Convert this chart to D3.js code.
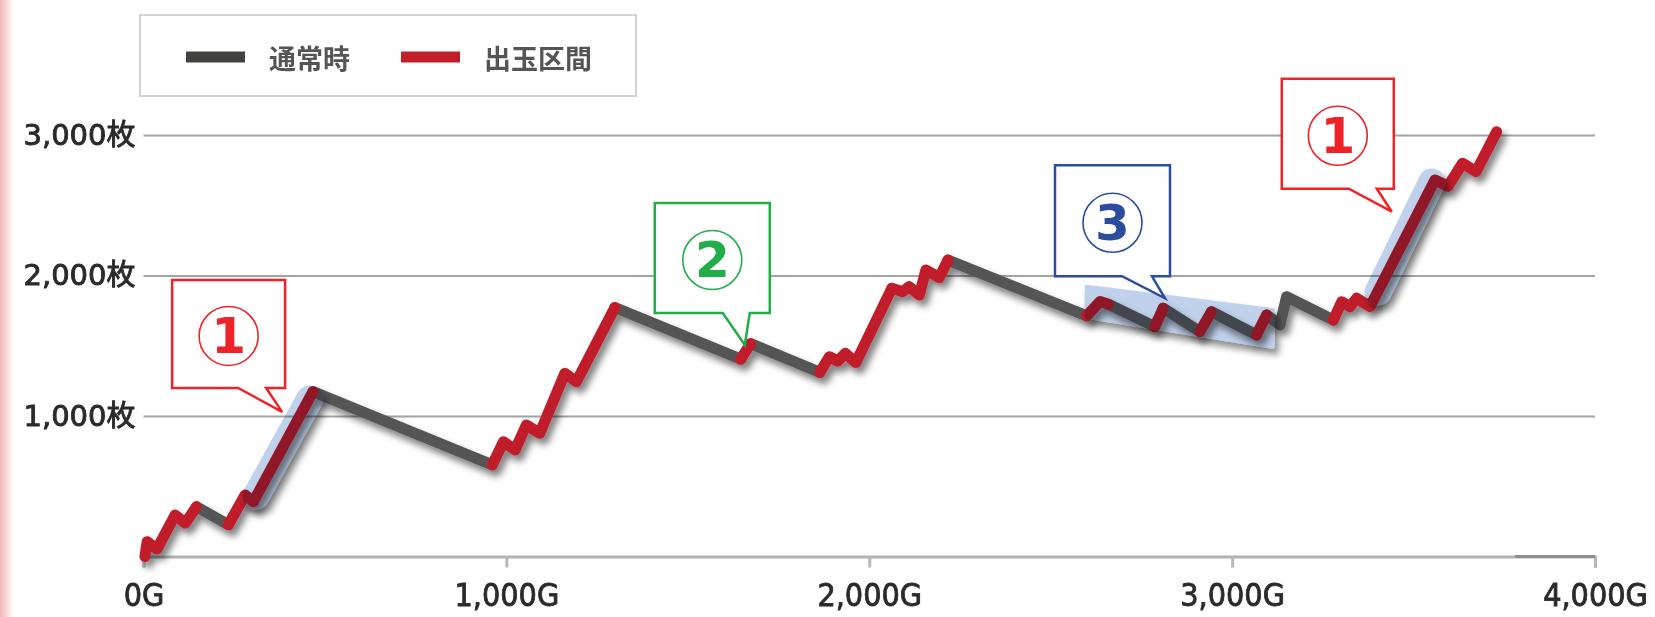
<!DOCTYPE html>
<html>
<head>
<meta charset="utf-8">
<script src="https://cdn.jsdelivr.net/npm/d3@7"></script>
<style>
  body { margin: 0; background: #fff; }
  svg { display: block; }
</style>
</head>
<body>
<svg id="chart" width="1655" height="617"></svg>
<script>
// game count (G) and coin balance (枚) at each turning point of the line
var games = [4, 10, 37, 87, 115, 146, 234, 280, 303, 467,
             961, 992, 1024, 1055, 1092, 1161, 1193, 1299,
             1646, 1673, 1864, 1890, 1913, 1934, 1963, 2062, 2092, 2110, 2138, 2156, 2193, 2217,
             2599, 2636, 2659, 2787, 2810, 2911, 2943, 3067, 3095,
             3132, 3150, 3279, 3302, 3325, 3343, 3380, 3559, 3595, 3635, 3672, 3729];
var coins = [0, 105, 53, 295, 238, 354, 226, 438, 390, 1173,
             652, 817, 758, 936, 877, 1304, 1244, 1772,
             1405, 1515, 1310, 1422, 1390, 1446, 1380, 1909, 1885, 1920, 1861, 2039, 1985, 2110,
             1712, 1815, 1795, 1636, 1767, 1600, 1742, 1577, 1719,
             1648, 1849, 1683, 1813, 1778, 1838, 1778, 2680, 2635, 2799, 2739, 3023];
// kind of the segment that ends at each point: "n" = 通常時, "b" = 出玉区間
var kind = ["-", "b", "b", "b", "b", "b", "n", "b", "b", "b",
            "n", "b", "b", "b", "b", "b", "b", "b",
            "n", "b", "n", "b", "b", "b", "b", "b", "b", "b", "b", "b", "b", "b",
            "n", "b", "b", "n", "b", "n", "b", "n", "b",
            "n", "n", "n", "b", "b", "b", "b", "b", "b", "b", "b", "b"];

var xTicks = [0, 1000, 2000, 3000, 4000];
var yTicks = [1000, 2000, 3000];
var legendNames = ["通常時", "出玉区間"];

// callouts: label and the point (G, 枚) the tail points at
var calloutLabels = ["1", "2", "3", "1"];
var calloutGames = [382, 1657, 2815, 3440];
var calloutCoins = [1029, 1505, 1838, 2454];

// highlighted stretches (G / 枚)
var bandStrokes = [[[310, 430], [458, 1121]], [[3402, 1882], [3550, 2665]]];
var bandAreaGames = [2599, 3112];
var bandAreaLow = [1707, 1493];
var bandAreaHigh = [1920, 1754];

var colors = { n: "#575555", b: "#c11f2a" };
var calloutColors = ["#ee2227", "#20ad4a", "#2c4d9e", "#ee2227"];
// box offsets from the tail tip: [left, top, right, bottom, tailBase0, tailBase1]
var calloutBoxes = [[-110, -132, 3, -24, -44, -16], [-90, -142, 25, -32, -22, 5],
                    [-110, -133, 5, -22, -43, -13], [-110, -133, 2, -23, -43, -15]];

var svg = d3.select("#chart");
var defs = svg.append("defs");

var shadow = defs.append("filter").attr("id", "shadow")
    .attr("x", "-20%").attr("y", "-20%").attr("width", "140%").attr("height", "140%");
shadow.append("feDropShadow")
    .attr("dx", 4).attr("dy", 6).attr("stdDeviation", 3.5)
    .attr("flood-color", "#000").attr("flood-opacity", 0.5);

var edge = defs.append("linearGradient").attr("id", "edge");
edge.append("stop").attr("offset", "0%").attr("stop-color", "#f0b0b0").attr("stop-opacity", 0.9);
edge.append("stop").attr("offset", "100%").attr("stop-color", "#f0b0b0").attr("stop-opacity", 0);
svg.append("rect").attr("x", 0).attr("y", 0).attr("width", 14).attr("height", 617)
    .attr("fill", "url(#edge)");

var x = d3.scaleLinear().domain([0, 4000]).range([143.5, 1595]);
var y = d3.scaleLinear().domain([0, 3000]).range([556.5, 135]);

// gridlines + y labels
var yAxis = svg.append("g")
    .attr("transform", "translate(" + x(0) + ",0)")
    .call(d3.axisLeft(y).tickValues(yTicks).tickSize(-(x(4000) - x(0)))
        .tickPadding(8).tickFormat(function (d) { return d3.format(",")(d) + "枚"; }));
yAxis.select(".domain").remove();
yAxis.selectAll(".tick line").attr("stroke", "#a4a4a4").attr("stroke-width", 2);
yAxis.selectAll(".tick text")
    .attr("fill", "#2a2a2a")
    .attr("stroke", "#2a2a2a").attr("stroke-width", 0.9)
    .style("font-family", "'DejaVu Sans', 'Noto Sans CJK JP', sans-serif")
    .style("font-size", "29px");

// x axis
var xAxis = svg.append("g")
    .attr("transform", "translate(0," + y(0) + ")")
    .call(d3.axisBottom(x).tickValues(xTicks).tickSize(11).tickPadding(16)
        .tickFormat(function (d) { return d3.format(",")(d) + "G"; }));
xAxis.select(".domain").attr("stroke", "#b2b2b2").attr("stroke-width", 3);
xAxis.selectAll(".tick line").attr("stroke", "#b8b8b8").attr("stroke-width", 3);
xAxis.selectAll(".tick text")
    .attr("fill", "#2a2a2a")
    .attr("stroke", "#2a2a2a").attr("stroke-width", 0.8)
    .style("font-family", "'DejaVu Sans Condensed', 'DejaVu Sans', sans-serif")
    .style("font-size", "32px");
xAxis.append("line")
    .attr("x1", x(3780)).attr("x2", x(4000)).attr("y1", 0).attr("y2", 0)
    .attr("stroke", "#8e8e8e").attr("stroke-width", 3);

// line runs
var runs = [];
for (var i = 1; i < games.length; i++) {
    var last = runs[runs.length - 1];
    if (last && last.kind === kind[i]) last.pts.push(i);
    else runs.push({ kind: kind[i], pts: [i - 1, i] });
}
var line = d3.line()
    .x(function (i) { return x(games[i]); })
    .y(function (i) { return y(coins[i]); });

var lines = svg.append("g").attr("filter", "url(#shadow)");
["n", "b"].forEach(function (k) {
    lines.selectAll(".run-" + k)
        .data(runs.filter(function (r) { return r.kind === k; }))
        .enter().append("path")
        .attr("class", "run-" + k)
        .attr("d", function (r) { return line(r.pts); })
        .attr("fill", "none")
        .attr("stroke", colors[k])
        .attr("stroke-width", 11)
        .attr("stroke-linecap", "round")
        .attr("stroke-linejoin", "round");
});

// translucent highlight bands
var bands = svg.append("g").style("mix-blend-mode", "multiply");
var bandShadow = bands.append("g").attr("filter", "url(#shadow)").attr("opacity", 0.9);
bandShadow.selectAll(".band")
    .data(bandStrokes).enter().append("path")
    .attr("d", d3.line().x(function (p) { return x(p[0]); }).y(function (p) { return y(p[1]); }))
    .attr("fill", "none")
    .attr("stroke", "#b8cde9")
    .attr("stroke-width", 27)
    .attr("stroke-linecap", "round");
bandShadow.append("path")
    .datum(bandAreaGames.map(function (g, i) { return i; }))
    .attr("d", d3.area()
        .x(function (i) { return x(bandAreaGames[i]); })
        .y0(function (i) { return y(bandAreaLow[i]); })
        .y1(function (i) { return y(bandAreaHigh[i]); }))
    .attr("fill", "#b8cde9")
    .attr("stroke", "#b8cde9")
    .attr("stroke-width", 4)
    .attr("stroke-linejoin", "round");

// callouts
calloutLabels.forEach(function (label, i) {
    var tx = x(calloutGames[i]), ty = y(calloutCoins[i]);
    var b = calloutBoxes[i];
    var l = tx + b[0], t = ty + b[1], r = tx + b[2], bt = ty + b[3];
    var g = svg.append("g");
    g.append("path")
        .attr("d", "M" + l + "," + t + "H" + r + "V" + bt + "H" + (tx + b[5]) +
            "L" + tx + "," + ty + "L" + (tx + b[4]) + "," + bt + "H" + l + "Z")
        .attr("fill", "#fff")
        .attr("stroke", calloutColors[i])
        .attr("stroke-width", 2.5)
        .attr("stroke-linejoin", "miter");
    var cx = (l + r) / 2, cy = (t + bt) / 2 + 2;
    g.append("circle").attr("cx", cx).attr("cy", cy).attr("r", 29.5)
        .attr("fill", "none").attr("stroke", calloutColors[i]).attr("stroke-width", 1.6);
    g.append("text").attr("x", cx).attr("y", cy)
        .attr("text-anchor", "middle").attr("dominant-baseline", "central")
        .attr("fill", calloutColors[i])
        .style("font-family", "'DejaVu Sans', sans-serif")
        .style("font-weight", "bold")
        .style("font-size", "50px")
        .text(label);
});

// legend
var legend = svg.append("g");
legend.append("rect")
    .attr("x", 140).attr("y", 15).attr("width", 496).attr("height", 81)
    .attr("fill", "#fff").attr("stroke", "#d2d2d2").attr("stroke-width", 2);
var legendX = [186, 401];
var legendColors = ["#454141", "#c11f2a"];
legendNames.forEach(function (name, i) {
    legend.append("line")
        .attr("x1", legendX[i]).attr("x2", legendX[i] + 59)
        .attr("y1", 57).attr("y2", 57)
        .attr("stroke", legendColors[i]).attr("stroke-width", 11);
    legend.append("text")
        .attr("x", legendX[i] + 83).attr("y", 57)
        .attr("dominant-baseline", "central")
        .attr("fill", "#555")
        .style("font-family", "'Noto Sans CJK JP', sans-serif")
        .style("font-weight", "bold")
        .style("font-size", "27px")
        .text(name);
});
</script>
</body>
</html>
